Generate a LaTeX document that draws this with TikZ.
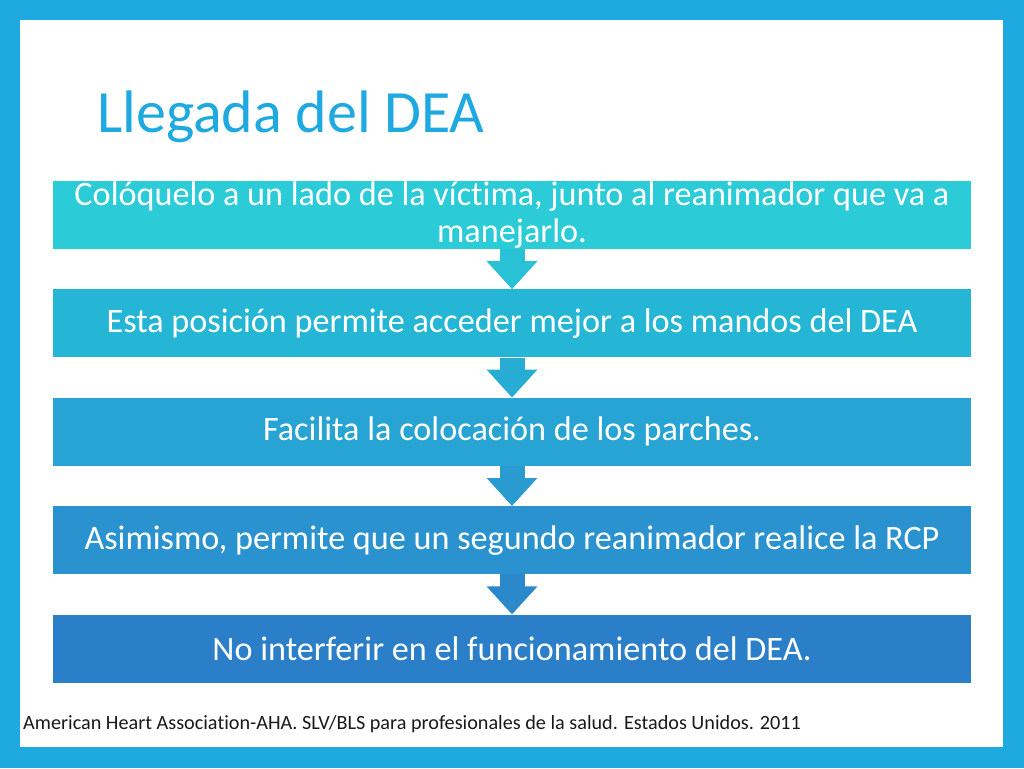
\documentclass[tikz,border=0pt]{standalone}
\usepackage{fontspec}
\setmainfont[Ligatures={NoCommon,NoContextual,NoRare},Contextuals=NoAlternate]{Carlito}
\usepackage{xcolor}
\definecolor{marco}{HTML}{1FA9E1}
\definecolor{azulA}{HTML}{2BCBD8}
\definecolor{azulB}{HTML}{26B6D5}
\definecolor{azulC}{HTML}{27A4D3}
\definecolor{azulD}{HTML}{2A92CF}
\definecolor{azulE}{HTML}{2B7EC8}
\usetikzlibrary{positioning,arrows.meta}
\begin{document}
\begin{tikzpicture}[x=1pt, y=-1pt, node distance = 40pt, paso/.style={
    	rectangle, minimum width = 918pt, minimum height = 68pt, inner sep = 0pt,
    	align = center, text = white, font = \fontsize{34.2}{37}\selectfont},
    	flecha/.style={line width = 25pt, -{Triangle[width=49pt,length=28pt]}}]
    	\fill[marco] (0,0) rectangle (1024,768);
    	\fill[white] (20,20) rectangle (1003,747);
    	\node (T) [anchor=base west, inner sep=0pt, text=marco, font=\fontsize{60}{66}\selectfont] at (97,132) {Llegada del DEA};
    	\node (A) [paso, fill=azulA] at (512,215) {Colóquelo a un lado de la víctima, junto al reanimador que va a\\manejarlo.};
    	\node (B) [paso, fill=azulB, below=of A] {Esta posición permite acceder mejor a los mandos del DEA};
    	\node (C) [paso, fill=azulC, below=of B] {Facilita la colocación de los parches.};
    	\node (D) [paso, fill=azulD, below=of C] {Asimismo, permite que un segundo reanimador realice la RCP};
    	\node (E) [paso, fill=azulE, below=of D] {No interferir en el funcionamiento del DEA.};
    	\draw[flecha, azulA!50!azulB] (A.south) -- (B.north);
    	\draw[flecha, azulB!50!azulC] (B.south) -- (C.north);
    	\draw[flecha, azulC!50!azulD] (C.south) -- (D.north);
    	\draw[flecha, azulD!50!azulE] (D.south) -- (E.north);
    	\node (F) [anchor=base west, inner sep=0pt, text=black!90, font=\fontsize{20.2}{24}\selectfont] at (23,729) {American Heart Association-AHA. SLV/BLS para profesionales de la salud. Estados Unidos. 2011};
\end{tikzpicture}
\end{document}
